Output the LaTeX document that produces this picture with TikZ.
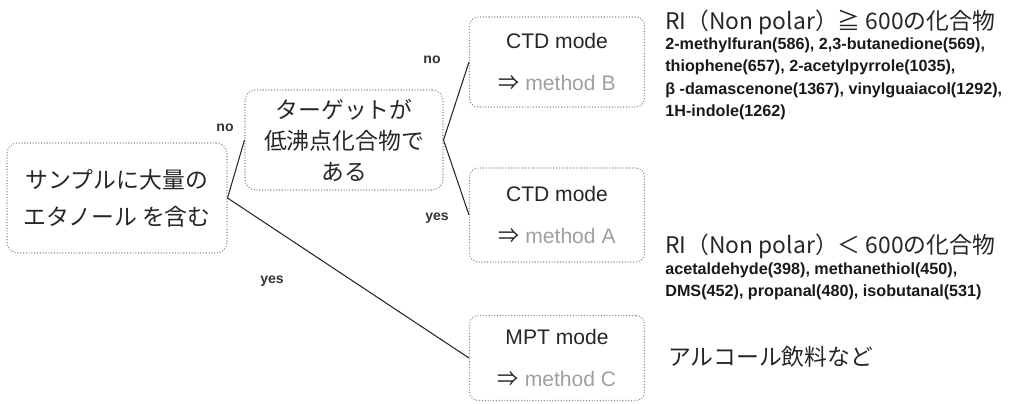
\documentclass[tikz,border=0pt]{standalone}
\usepackage{fontspec}
\setmainfont{Liberation Sans}
\newfontfamily\jp{Noto Sans CJK JP}
\usetikzlibrary{positioning}
\tikzset{
    % Boxes
    query/.style={rectangle, draw=gray!90, densely dotted, line width=0.6pt, rounded corners=6pt,
                  align=center, text=black!85, inner sep=0pt,
                  font=\jp\fontsize{13}{21}\selectfont},
    mode/.style={rectangle, draw=gray!90, densely dotted, line width=0.6pt, rounded corners=5pt,
                 minimum width=3.5cm, minimum height=1.8cm, align=center, inner sep=0pt,
                 text=black!85, font=\fontsize{12}{24}\selectfont},
    % Texts
    head/.style={anchor=west, inner sep=0pt, text=black!85, font=\jp\fontsize{13}{16}\selectfont},
    list/.style={anchor=north west, align=left, inner sep=0pt, text=black!90,
                 font=\bfseries\fontsize{9.2}{12.8}\selectfont},
    % Flow & Labels
    flow/.style={black!85, line width=0.6pt},
    lbl/.style={inner sep=1pt, text=black!80, font=\bfseries\fontsize{8}{9}\selectfont}
}
\newcommand{\methodto}[1]{{\jp ⇒} {\color{gray!75}method #1}}

\begin{document}
\begin{tikzpicture}[x=0.02cm, y=-0.02cm]
\useasboundingbox (0,0) rectangle (1020,403);

% decisions
\node[query, minimum width=4.4cm, minimum height=2.2cm] (sample) at (117,198) {サンプルに大量の\\エタノール を含む};
\node[query, minimum width=3.96cm, minimum height=2cm, font=\jp\fontsize{13}{17.6}\selectfont] (target) at (344,140) {ターゲットが\\低沸点化合物で\\ある};

% modes
\node[mode] (ctdB) at (557,62) {CTD mode\\\methodto{B}};
\node[mode, minimum height=1.88cm] (ctdA) at (557,215) {CTD mode\\\methodto{A}};
\node[mode, minimum height=1.7cm] (mpt) at (557,358) {MPT mode\\\methodto{C}};

% notes
\node[head] (riHigh) at (665,22) {RI（Non polar）≧ 600の化合物};
\node[list] (listHigh) at (665,37) {2-methylfuran(586), 2,3-butanedione(569),\\
thiophene(657), 2-acetylpyrrole(1035),\\
β -damascenone(1367), vinylguaiacol(1292),\\
1H-indole(1262)};
\node[head] (riLow) at (665,246) {RI（Non polar）＜ 600の化合物};
\node[list] (listLow) at (665,262) {acetaldehyde(398), methanethiol(450),\\
DMS(452), propanal(480), isobutanal(531)};
\node[head] (drinks) at (668,357) {アルコール飲料など};

% connectors
\draw[flow] (sample.east) -- (target.west);
\draw[flow] (target.east) -- (ctdB.west);
\draw[flow] (target.east) -- (ctdA.west);
\draw[flow] (sample.east) -- (mpt.west);

\node[lbl] (noTarget) at (225,128) {no};
\node[lbl] (noHigh) at (432,60) {no};
\node[lbl] (yesLow) at (437,218) {yes};
\node[lbl] (yesEthanol) at (272,281) {yes};

\end{tikzpicture}
\end{document}
